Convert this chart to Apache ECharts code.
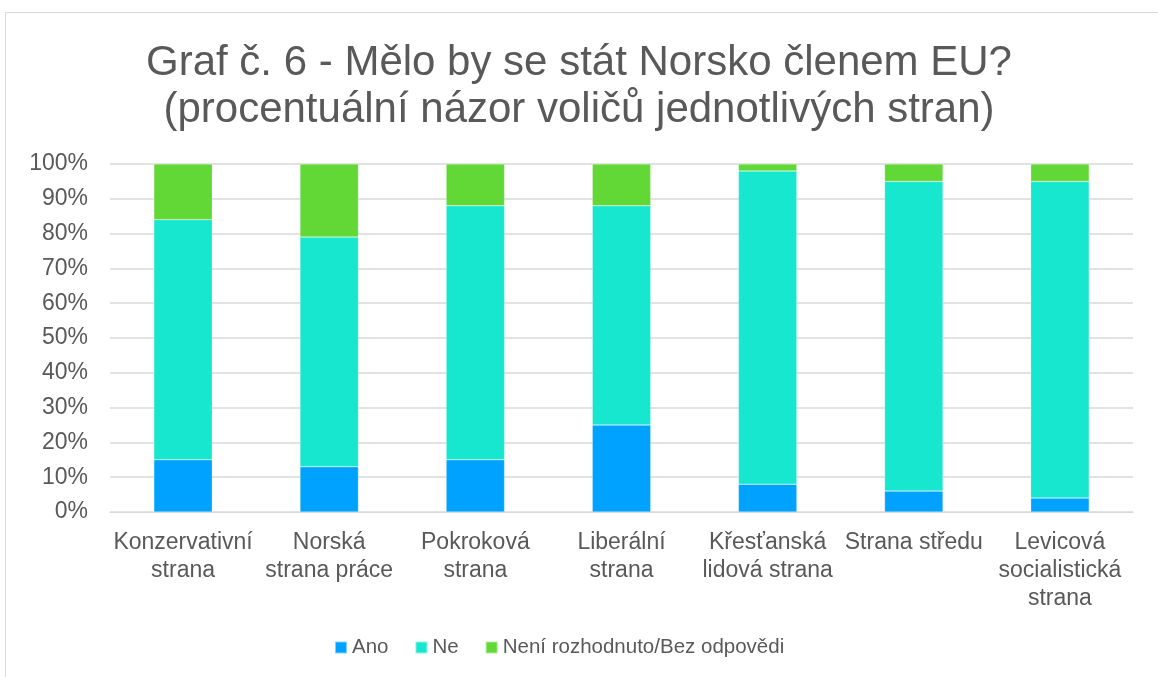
<!DOCTYPE html>
<html>
<head>
<meta charset="utf-8">
<script src="https://cdn.jsdelivr.net/npm/echarts@6/dist/echarts.min.js"></script>
<style>
	html, body { margin: 0; padding: 0; background: #fff; }
	#chart { width: 1158px; height: 677px; }
</style>
</head>
<body>
<div id="chart"></div>
<script>
	// kategorie (strany) a hodnoty v %
	var strany = ['Konzervativní\nstrana', 'Norská\nstrana práce', 'Pokroková\nstrana', 'Liberální\nstrana',
		'Křesťanská\nlidová strana', 'Strana středu', 'Levicová\nsocialistická\nstrana'];
	var ano = [15, 13, 15, 25, 8, 6, 4];
	var ne = [69, 66, 73, 63, 90, 89, 91];
	var nevi = [16, 21, 12, 12, 2, 5, 5];

	var chart = echarts.init(document.getElementById('chart'));
	var font = '"Liberation Sans", Arial, sans-serif';

	function serie(name, data, color) {
		return {
			name: name,
			type: 'bar',
			stack: 'all',
			barWidth: '40%',
			data: data,
			itemStyle: { color: color, borderColor: 'rgba(255,255,255,0.5)', borderWidth: 0.5 }
		};
	}

	var opt = {
		animation: false,
		textStyle: { fontFamily: font },
		title: {
			text: 'Graf č. 6 - Mělo by se stát Norsko členem EU?\n(procentuální názor voličů jednotlivých stran)',
			left: 'center',
			top: 35,
			textStyle: { color: '#595959', fontSize: 42, fontWeight: 'normal', lineHeight: 47, fontFamily: font }
		},
		graphic: [{
			type: 'rect',
			shape: { x: 5.5, y: 12.5, width: 1170, height: 700 },
			style: { fill: 'none', stroke: '#d9d9d9', lineWidth: 1 },
			silent: true
		}],
		legend: {
			bottom: 14,
			left: 329,
			itemWidth: 12,
			itemHeight: 12,
			itemGap: 26,
			icon: 'rect',
			textStyle: { color: '#595959', fontSize: 20.5, fontFamily: font },
			data: ['Ano', 'Ne', 'Není rozhodnuto/Bez odpovědi']
		},
		grid: { left: 110, right: 25, top: 164, bottom: 165 },
		xAxis: {
			type: 'category',
			data: strany,
			axisLine: { lineStyle: { color: '#d9d9d9' } },
			axisTick: { show: false },
			axisLabel: { color: '#595959', fontSize: 23, lineHeight: 28, margin: 17, interval: 0, fontFamily: font }
		},
		yAxis: {
			type: 'value',
			min: 0,
			max: 100,
			interval: 10,
			axisLine: { show: false },
			axisTick: { show: false },
			splitLine: { lineStyle: { color: '#d9d9d9', width: 1.5 } },
			axisLabel: { color: '#595959', fontSize: 23, margin: 22, formatter: '{value}%', fontFamily: font }
		},
		series: [
			serie('Ano', ano, '#00a2ff'),
			serie('Ne', ne, '#17e7cf'),
			serie('Není rozhodnuto/Bez odpovědi', nevi, '#61d836')
		]
	};
	chart.setOption(opt);

	window.onresize = function () {
		chart.resize();
	};
</script>
</body>
</html>
